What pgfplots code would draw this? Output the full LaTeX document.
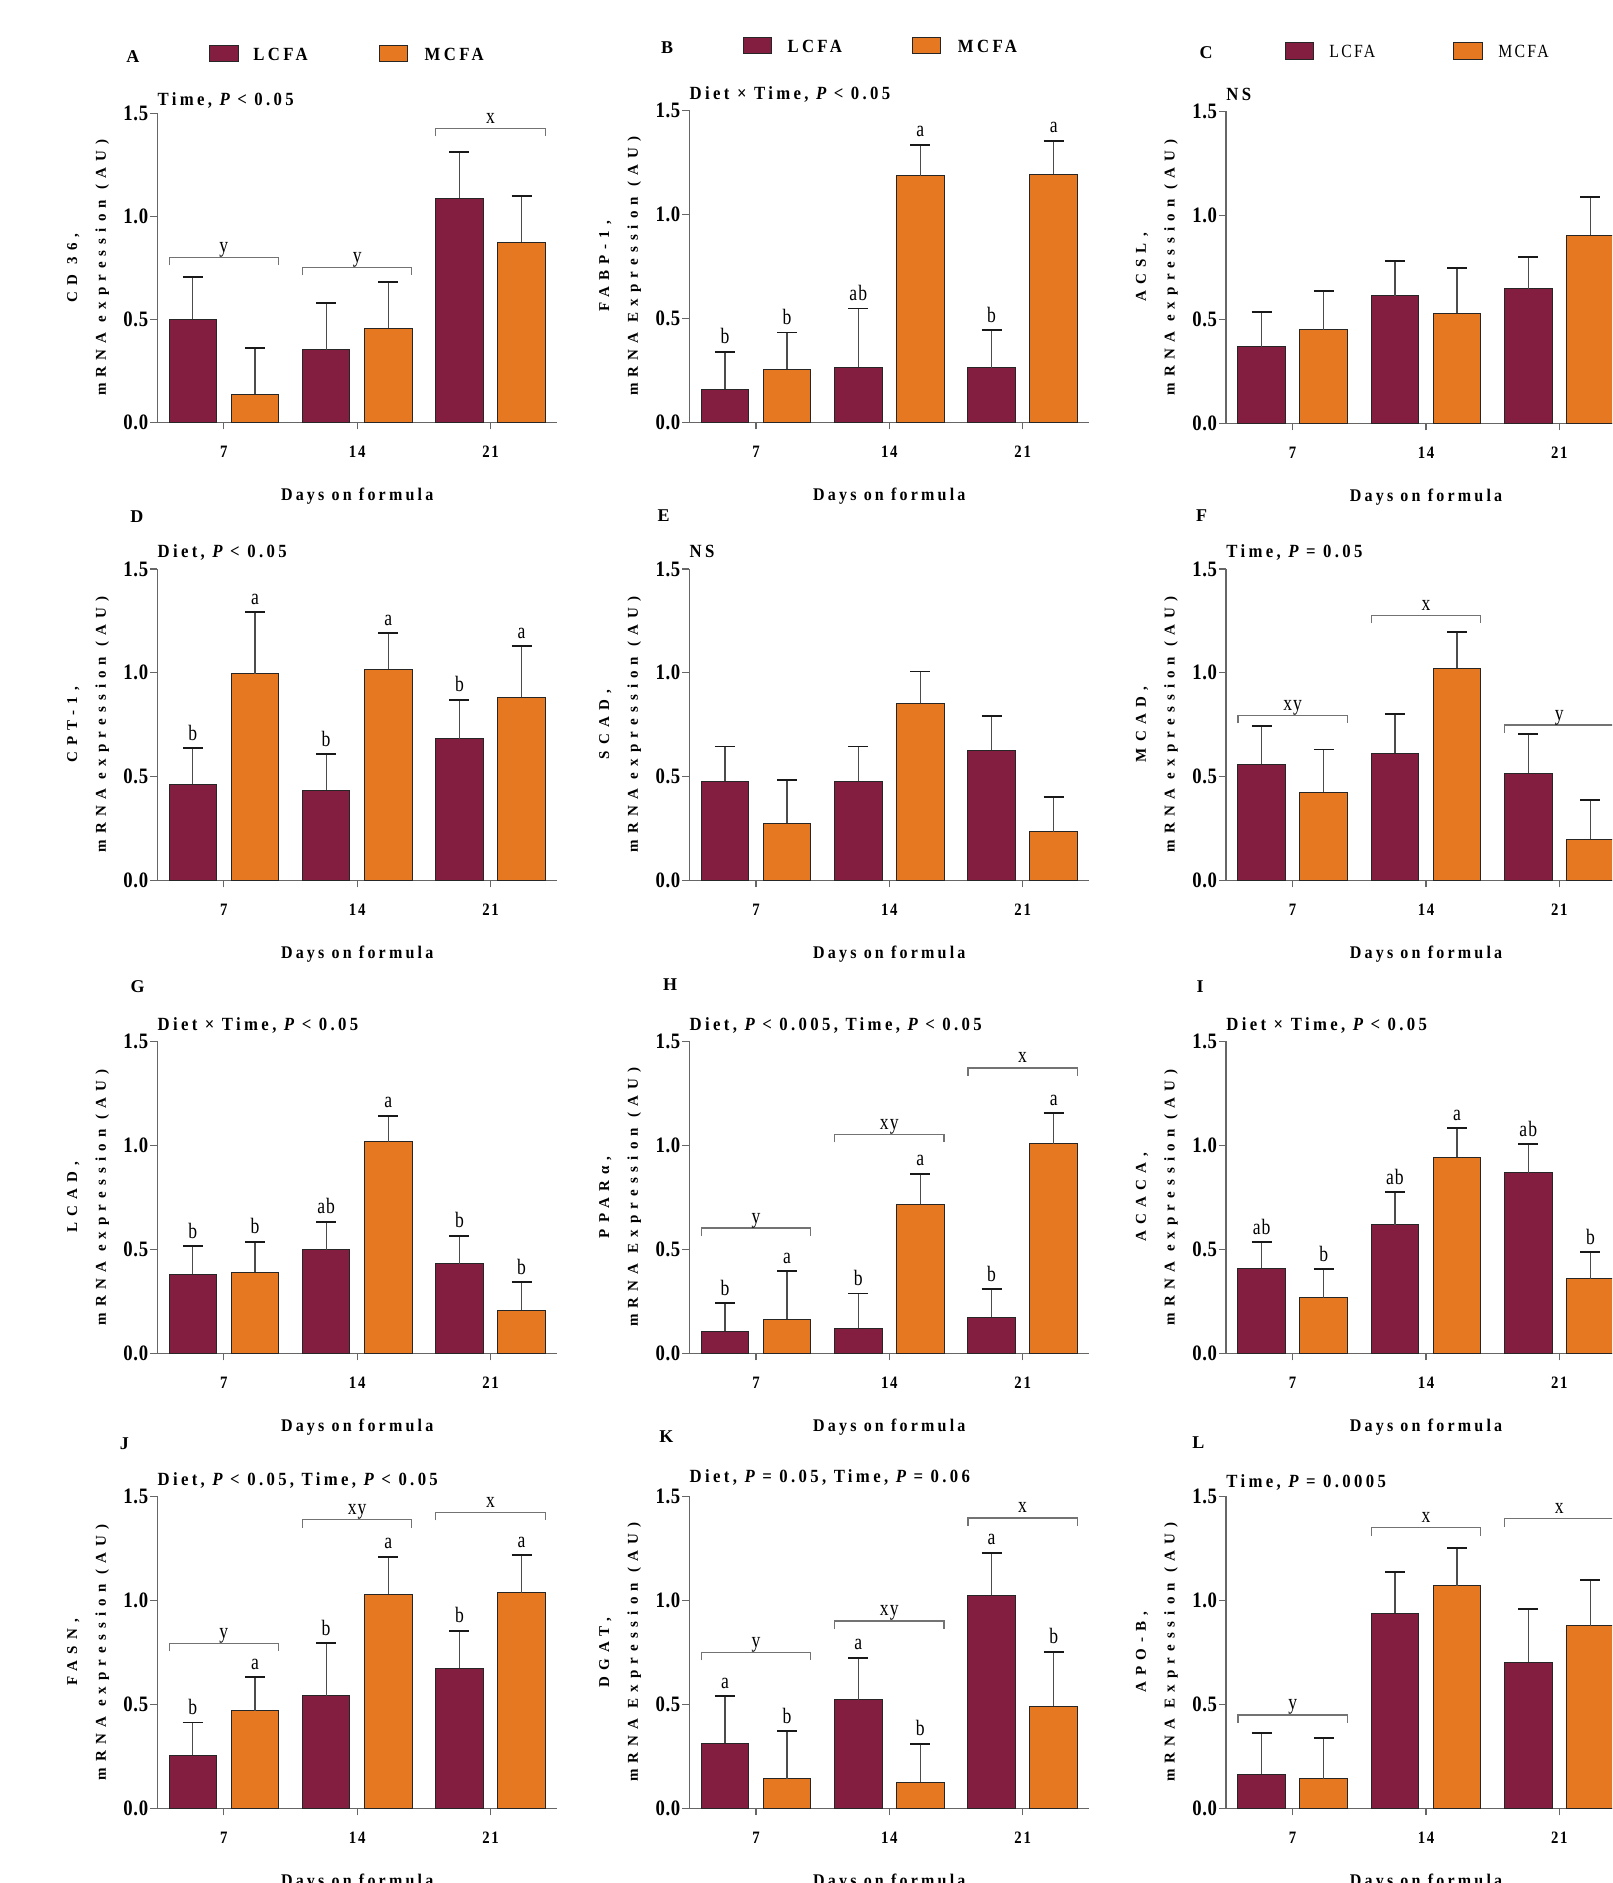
\documentclass[border=0pt]{standalone}
\usepackage{fontspec}
\setmainfont{Liberation Serif}
\usepackage{pgfplots}
\pgfplotsset{compat=1.18}
\newfontfamily\tkf{Liberation Serif}[FakeStretch=0.85,LetterSpace=3]
\newfontfamily\xtf{Liberation Serif}[FakeStretch=0.85,LetterSpace=10]
\newfontfamily\lbf{Liberation Serif}[FakeStretch=0.9,LetterSpace=18]
\newfontfamily\lbo{Liberation Serif}[FakeStretch=0.85,LetterSpace=12]
\newfontfamily\ylf{Liberation Serif}[LetterSpace=41]
\newfontfamily\sgf{Liberation Serif}[FakeStretch=0.8,LetterSpace=5]
\newfontfamily\pnf{Liberation Serif}
\definecolor{lcfa}{RGB}{132,30,65}
\definecolor{mcfa}{RGB}{230,120,34}
\newcommand\fTick{\tkf\bfseries\fontsize{11}{12}\selectfont}
\newcommand\fXTick{\xtf\bfseries\fontsize{8.7}{10}\selectfont}
\newcommand\fLab{\lbf\bfseries\fontsize{8.9}{10}\selectfont}
\newcommand\fTitle{\lbf\bfseries\fontsize{9.3}{11}\selectfont}
\newcommand\fY{\ylf\bfseries\fontsize{7.5}{8.5}\selectfont}
\newcommand\fSig{\sgf\fontsize{11}{12}\selectfont}
\newcommand\fPan{\pnf\bfseries\fontsize{9}{10}\selectfont}
\newcommand\fLeg{\lbf\bfseries\fontsize{9.3}{11}\selectfont}
\newcommand\fLegR{\lbo\fontsize{9.3}{11}\selectfont}
\pgfplotsset{
  pan/.style={scale only axis, anchor=south west, clip=false, width=200pt,
    xmin=-0.5, xmax=2.5, ymin=0, ymax=1.5,
    axis lines=left, axis line style={-, black!60, line width=0.6pt},
    xtick={0,1,2}, xticklabels={7,14,21},
    ytick={0,0.5,1,1.5}, yticklabels={0.0,0.5,1.0,1.5},
    tick align=outside, major tick length=3.5pt,
    tick style={black!60, line width=0.6pt},
    xticklabel style={font=\fXTick, yshift=-5pt},
    yticklabel style={font=\fTick, xshift=2.5pt}},
  barbase/.style={ybar, bar width=0.357, bar shift=0pt, draw=black!85, line width=0.5pt,
    error bars/.cd, y dir=plus, y explicit,
    error bar style={black!70, line width=0.6pt},
    error mark options={rotate=90, black!90, mark size=5pt, line width=0.9pt}},
  lcfabar/.style={fill=lcfa, barbase},
  mcfabar/.style={fill=mcfa, barbase},
}
\newcommand\sg[3]{\node[font=\fSig, anchor=base, inner sep=0pt, yshift=4pt] at (axis cs:#1,#2) {#3};}
\newcommand\br[5]{\draw[black!55, line width=0.6pt] (axis cs:#2,#4) ++(0pt,-4pt) -- (axis cs:#2,#4) -- (axis cs:#3,#4) -- ++(0pt,-4pt);
  \node[font=\fSig, anchor=base, inner sep=0pt, yshift=2.5pt] at (axis cs:#1,#4) {#5};}
\newcommand\deco[4]{%
  \node[font=\fTitle, anchor=base west, inner sep=0pt, yshift=#4] at (rel axis cs:0,1) {#3};
  \node[font=\fY, inner sep=0pt, xshift=-27.5pt, rotate=90] at (rel axis cs:0,0.5) {#2};
  \node[font=\fY, inner sep=0pt, xshift=-42pt, rotate=90] at (rel axis cs:0,0.5) {#1};
  \node[font=\fLab, anchor=base, inner sep=0pt, yshift=-39pt] at (rel axis cs:0.5,0) {Days on formula};}
\begin{document}
\begin{tikzpicture}
\path[use as bounding box, clip] (0pt,0pt) rectangle (806pt,-941.5pt);
% ---------- A ----------
\begin{axis}[pan, height=154.5pt, at={(78.6pt,-211.15pt)}]
\addplot[lcfabar] coordinates {(-0.233,0.500) +- (0,0.207) (0.767,0.351) +- (0,0.227) (1.767,1.087) +- (0,0.227)};
\addplot[mcfabar] coordinates {(0.233,0.136) +- (0,0.226) (1.233,0.456) +- (0,0.227) (2.233,0.875) +- (0,0.225)};
\br{0}{-0.41}{0.41}{0.80}{y}
\br{1}{0.59}{1.41}{0.752}{y}
\br{2}{1.59}{2.41}{1.427}{x}
\deco{CD 36,}{mRNA expression (AU)}{Time, {\itshape P} < 0.05}{4pt}
\end{axis}
% ---------- B ----------
\begin{axis}[pan, height=156pt, at={(344.65pt,-211.15pt)}]
\addplot[lcfabar] coordinates {(-0.233,0.160) +- (0,0.179) (0.767,0.264) +- (0,0.283) (1.767,0.263) +- (0,0.179)};
\addplot[mcfabar] coordinates {(0.233,0.255) +- (0,0.177) (1.233,1.186) +- (0,0.149) (2.233,1.193) +- (0,0.161)};
\sg{-0.233}{0.339}{b}\sg{0.233}{0.432}{b}\sg{0.767}{0.547}{ab}\sg{1.233}{1.335}{a}\sg{1.767}{0.442}{b}\sg{2.233}{1.354}{a}
\deco{FABP-1,}{mRNA Expression (AU)}{Diet × Time, {\itshape P} < 0.05}{5.5pt}
\end{axis}
% ---------- C ----------
\begin{axis}[pan, height=156pt, at={(613pt,-211.65pt)}]
\addplot[lcfabar] coordinates {(-0.233,0.369) +- (0,0.166) (0.767,0.614) +- (0,0.165) (1.767,0.647) +- (0,0.153)};
\addplot[mcfabar] coordinates {(0.233,0.449) +- (0,0.186) (1.233,0.529) +- (0,0.218) (2.233,0.904) +- (0,0.184)};
\deco{ACSL,}{mRNA expression (AU)}{NS}{5.5pt}
\end{axis}
% ---------- D ----------
\begin{axis}[pan, height=155.7pt, at={(78.6pt,-440.15pt)}]
\addplot[lcfabar] coordinates {(-0.233,0.462) +- (0,0.174) (0.767,0.434) +- (0,0.173) (1.767,0.683) +- (0,0.187)};
\addplot[mcfabar] coordinates {(0.233,0.994) +- (0,0.297) (1.233,1.017) +- (0,0.173) (2.233,0.882) +- (0,0.245)};
\sg{-0.233}{0.636}{b}\sg{0.233}{1.291}{a}\sg{0.767}{0.607}{b}\sg{1.233}{1.190}{a}\sg{1.767}{0.870}{b}\sg{2.233}{1.127}{a}
\deco{CPT-1,}{mRNA expression (AU)}{Diet, {\itshape P} < 0.05}{5.5pt}
\end{axis}
% ---------- E ----------
\begin{axis}[pan, height=155.7pt, at={(344.65pt,-440.15pt)}]
\addplot[lcfabar] coordinates {(-0.233,0.476) +- (0,0.169) (0.767,0.476) +- (0,0.169) (1.767,0.626) +- (0,0.167)};
\addplot[mcfabar] coordinates {(0.233,0.276) +- (0,0.207) (1.233,0.852) +- (0,0.154) (2.233,0.233) +- (0,0.168)};
\deco{SCAD,}{mRNA expression (AU)}{NS}{5.5pt}
\end{axis}
% ---------- F ----------
\begin{axis}[pan, height=155.7pt, at={(613pt,-440.15pt)}]
\addplot[lcfabar] coordinates {(-0.233,0.559) +- (0,0.186) (0.767,0.612) +- (0,0.188) (1.767,0.516) +- (0,0.187)};
\addplot[mcfabar] coordinates {(0.233,0.424) +- (0,0.206) (1.233,1.021) +- (0,0.174) (2.233,0.198) +- (0,0.189)};
\br{0}{-0.41}{0.41}{0.795}{xy}
\br{1}{0.59}{1.41}{1.277}{x}
\br{2}{1.59}{2.41}{0.748}{y}
\deco{MCAD,}{mRNA expression (AU)}{Time, {\itshape P} = 0.05}{5.5pt}
\end{axis}
% ---------- G ----------
\begin{axis}[pan, height=156pt, at={(78.6pt,-676.65pt)}]
\addplot[lcfabar] coordinates {(-0.233,0.380) +- (0,0.135) (0.767,0.497) +- (0,0.135) (1.767,0.430) +- (0,0.135)};
\addplot[mcfabar] coordinates {(0.233,0.390) +- (0,0.147) (1.233,1.016) +- (0,0.125) (2.233,0.207) +- (0,0.135)};
\sg{-0.233}{0.515}{b}\sg{0.233}{0.537}{b}\sg{0.767}{0.632}{ab}\sg{1.233}{1.141}{a}\sg{1.767}{0.565}{b}\sg{2.233}{0.342}{b}
\deco{LCAD,}{mRNA expression (AU)}{Diet × Time, {\itshape P} < 0.05}{5.5pt}
\end{axis}
% ---------- H ----------
\begin{axis}[pan, height=156pt, at={(344.65pt,-676.65pt)}]
\addplot[lcfabar] coordinates {(-0.233,0.107) +- (0,0.133) (0.767,0.120) +- (0,0.168) (1.767,0.174) +- (0,0.135)};
\addplot[mcfabar] coordinates {(0.233,0.163) +- (0,0.232) (1.233,0.716) +- (0,0.148) (2.233,1.007) +- (0,0.147)};
\sg{-0.233}{0.240}{b}\sg{0.233}{0.395}{a}\sg{0.767}{0.288}{b}\sg{1.233}{0.864}{a}\sg{1.767}{0.309}{b}\sg{2.233}{1.154}{a}
\br{0}{-0.41}{0.41}{0.602}{y}
\br{1}{0.59}{1.41}{1.052}{xy}
\br{2}{1.59}{2.41}{1.372}{x}
\deco{PPARα,}{mRNA Expression (AU)}{Diet, {\itshape P} < 0.005, Time, {\itshape P} < 0.05}{5.5pt}
\end{axis}
% ---------- I ----------
\begin{axis}[pan, height=156pt, at={(613pt,-676.65pt)}]
\addplot[lcfabar] coordinates {(-0.233,0.409) +- (0,0.126) (0.767,0.617) +- (0,0.157) (1.767,0.867) +- (0,0.139)};
\addplot[mcfabar] coordinates {(0.233,0.266) +- (0,0.139) (1.233,0.942) +- (0,0.140) (2.233,0.359) +- (0,0.127)};
\sg{-0.233}{0.535}{ab}\sg{0.233}{0.405}{b}\sg{0.767}{0.774}{ab}\sg{1.233}{1.082}{a}\sg{1.767}{1.006}{ab}\sg{2.233}{0.486}{b}
\deco{ACACA,}{mRNA expression (AU)}{Diet × Time, {\itshape P} < 0.05}{5.5pt}
\end{axis}
% ---------- J ----------
\begin{axis}[pan, height=156pt, at={(78.6pt,-904.15pt)}]
\addplot[lcfabar] coordinates {(-0.233,0.255) +- (0,0.158) (0.767,0.542) +- (0,0.251) (1.767,0.673) +- (0,0.180)};
\addplot[mcfabar] coordinates {(0.233,0.468) +- (0,0.162) (1.233,1.030) +- (0,0.180) (2.233,1.037) +- (0,0.179)};
\sg{-0.233}{0.413}{b}\sg{0.233}{0.630}{a}\sg{0.767}{0.793}{b}\sg{1.233}{1.210}{a}\sg{1.767}{0.853}{b}\sg{2.233}{1.216}{a}
\br{0}{-0.41}{0.41}{0.793}{y}
\br{1}{0.59}{1.41}{1.388}{xy}
\br{2}{1.59}{2.41}{1.423}{x}
\deco{FASN,}{mRNA expression (AU)}{Diet, {\itshape P} < 0.05, Time, {\itshape P} < 0.05}{5.5pt}
\end{axis}
% ---------- K ----------
\begin{axis}[pan, height=156pt, at={(344.65pt,-904.15pt)}]
\addplot[lcfabar] coordinates {(-0.233,0.3125) +- (0,0.226) (0.767,0.521) +- (0,0.202) (1.767,1.024) +- (0,0.204)};
\addplot[mcfabar] coordinates {(0.233,0.143) +- (0,0.227) (1.233,0.125) +- (0,0.186) (2.233,0.490) +- (0,0.263)};
\sg{-0.233}{0.538}{a}\sg{0.233}{0.370}{b}\sg{0.767}{0.723}{a}\sg{1.233}{0.311}{b}\sg{1.767}{1.228}{a}\sg{2.233}{0.753}{b}
\br{0}{-0.41}{0.41}{0.750}{y}
\br{1}{0.59}{1.41}{0.901}{xy}
\br{2}{1.59}{2.41}{1.396}{x}
\deco{DGAT,}{mRNA Expression (AU)}{Diet, {\itshape P} = 0.05, Time, {\itshape P} = 0.06}{7pt}
\end{axis}
% ---------- L ----------
\begin{axis}[pan, height=156pt, at={(613pt,-904.15pt)}]
\addplot[lcfabar] coordinates {(-0.233,0.165) +- (0,0.197) (0.767,0.9375) +- (0,0.198) (1.767,0.702) +- (0,0.256)};
\addplot[mcfabar] coordinates {(0.233,0.141) +- (0,0.199) (1.233,1.0705) +- (0,0.182) (2.233,0.878) +- (0,0.221)};
\br{0}{-0.41}{0.41}{0.449}{y}
\br{1}{0.59}{1.41}{1.349}{x}
\br{2}{1.59}{2.41}{1.393}{x}
\deco{APO-B,}{mRNA Expression (AU)}{Time, {\itshape P} = 0.0005}{4.5pt}
\end{axis}
% ---------- panel letters ----------
\node[font=\fPan] at (66.45pt,-28.5pt) {A};
\node[font=\fPan] at (333.55pt,-24pt) {B};
\node[font=\fPan] at (603pt,-26.5pt) {C};
\node[font=\fPan] at (68.4pt,-258.35pt) {D};
\node[font=\fPan] at (331.8pt,-257.85pt) {E};
\node[font=\fPan] at (600.85pt,-257.85pt) {F};
\node[font=\fPan] at (68.75pt,-493.35pt) {G};
\node[font=\fPan] at (335pt,-492.5pt) {H};
\node[font=\fPan] at (600pt,-493.35pt) {I};
\node[font=\fPan] at (62.15pt,-721.65pt) {J};
\node[font=\fPan] at (333.2pt,-718.35pt) {K};
\node[font=\fPan] at (599.15pt,-721.35pt) {L};
% ---------- legends ----------
\filldraw[fill=lcfa, draw=black!85, line width=0.5pt] (104.5pt,-23pt) rectangle (119pt,-31pt);
\node[font=\fLeg, anchor=west, inner sep=0pt] at (126.45pt,-27pt) {LCFA};
\filldraw[fill=mcfa, draw=black!85, line width=0.5pt] (189.65pt,-23pt) rectangle (203.5pt,-31pt);
\node[font=\fLeg, anchor=west, inner sep=0pt] at (212.15pt,-27pt) {MCFA};
\filldraw[fill=lcfa, draw=black!85, line width=0.5pt] (371.6pt,-19pt) rectangle (385.5pt,-27pt);
\node[font=\fLeg, anchor=west, inner sep=0pt] at (393.55pt,-23pt) {LCFA};
\filldraw[fill=mcfa, draw=black!85, line width=0.5pt] (456.25pt,-19pt) rectangle (470.2pt,-27pt);
\node[font=\fLeg, anchor=west, inner sep=0pt] at (478.75pt,-23pt) {MCFA};
\filldraw[fill=lcfa, draw=black!85, line width=0.5pt] (642.5pt,-21.5pt) rectangle (656.5pt,-30pt);
\node[font=\fLegR, anchor=west, inner sep=0pt] at (664.5pt,-25.75pt) {LCFA};
\filldraw[fill=mcfa, draw=black!85, line width=0.5pt] (726.5pt,-21.5pt) rectangle (741pt,-30pt);
\node[font=\fLegR, anchor=west, inner sep=0pt] at (749pt,-25.75pt) {MCFA};
\end{tikzpicture}
\end{document}
